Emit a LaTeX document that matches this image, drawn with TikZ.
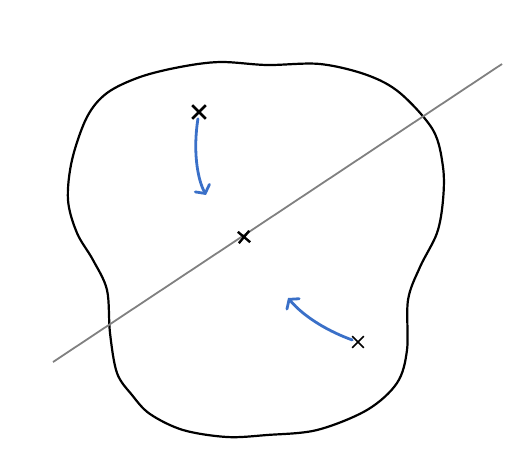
\documentclass[tikz,border=0pt]{standalone}
\usepackage{tikz}
\usetikzlibrary{arrows.meta,positioning,calc,shapes.misc}
\definecolor{penblue}{RGB}{58,112,200}

\begin{document}
\begin{tikzpicture}
    [x=1pt,y=-1pt,every node/.style={cross out,draw=black,inner sep=0pt},
     pen/.style={penblue,line width=2.8pt,line cap=round,-{Straight Barb[length=6pt,width=16pt,line cap=round]}}]
    \useasboundingbox (0,0) rectangle (518,464);

    % blob outline
    \draw[line width=2.2pt,line join=round] plot[smooth cycle,tension=0.55] coordinates {
        (220,62) (267,65) (320,64) (367,75) (400,93) (433,130) (443,167) (443,200)
        (437,233) (420,267) (408,300) (407,350) (397,383) (367,410) (317,430)
        (267,435) (227,437) (183,430) (150,414) (132,395) (117,373) (110,333)
        (107,290) (93,260) (77,233) (68,200) (72,160) (87,117) (107,93) (140,77)
        (180,67)};
    % axis
    \draw[gray,line width=1.8pt] (53,362) -- (502,64);

    \node[line width=2.6pt,minimum size=11pt] (Xtop) at (199,112) {};
    \node[line width=2.4pt,minimum size=9pt,rotate=5] (Xmid) at (244,237) {};
    \node[line width=1.6pt,minimum size=10pt] (Xbot) at (358,342) {};
    \coordinate (Etop) at (206,195);
    \coordinate (Ebot) at (288,298);

    \draw[pen] (Xtop) .. controls (193,150) and (197,178) .. (Etop);
    \draw[pen] (Xbot) .. controls (330,332) and (305,318) .. (Ebot);
\end{tikzpicture}
\end{document}
